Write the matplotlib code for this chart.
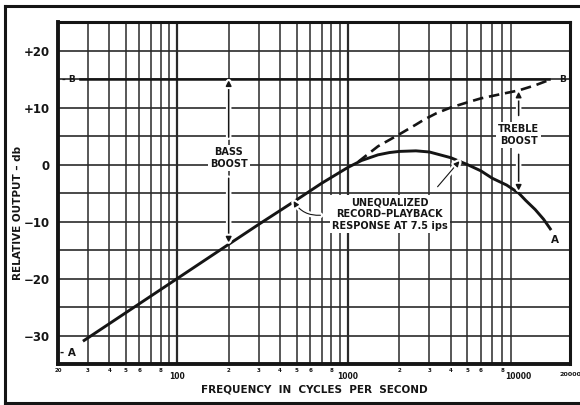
import numpy as np
import matplotlib
matplotlib.use('Agg')
import matplotlib.pyplot as plt
from matplotlib import patheffects as pe
from matplotlib.lines import Line2D

plt.rcParams['font.family'] = 'DejaVu Sans'
plt.rcParams['font.weight'] = 'bold'
plt.rcParams['axes.labelweight'] = 'bold'

# Unequalized record-playback response (curve A), dB vs Hz
resp_freq = [28, 100, 200, 300, 500, 700, 1000, 1200, 1500, 1750, 2000, 2500,
             3000, 4000, 5000, 6000, 7000, 8500, 10000, 11000, 12500, 14000, 15500]
resp_db = [-31.0, -20.0, -14.0, -10.5, -6.2, -3.3, -0.5, 0.7, 1.7, 2.1, 2.3, 2.4,
           2.2, 1.2, 0.0, -1.1, -2.4, -3.6, -5.0, -6.3, -7.9, -9.6, -11.5]

# Response with treble boost (dashed, running up to B)
boost_freq = [1150, 1500, 2000, 2500, 2800, 3300, 4000, 5000, 6000, 8000, 10000, 12500, 15000]
boost_db = [0.5, 3.2, 5.3, 7.0, 7.9, 9.0, 10.0, 10.9, 11.6, 12.4, 13.0, 13.9, 14.8]

# Flat target level (line B)
flat_freq = [27, 15100]
flat_db = [15, 15]

# Axis ticks
y_ticks = [20, 10, 0, -10, -20, -30]
y_labels = ['+20', '+10', '0', '\u221210', '\u221220', '\u221230']
major_x = [100, 1000, 10000, 20000]
major_x_labels = ['100', '1000', '10000', '20000']
minor_x = [20, 30, 40, 50, 60, 80, 200, 300, 400, 500, 600, 800,
           2000, 3000, 4000, 5000, 6000, 8000]
minor_x_labels = ['20', '3', '4', '5', '6', '8', '2', '3', '4', '5', '6', '8',
                  '2', '3', '4', '5', '6', '8']

ink = '#151515'

fig = plt.figure(figsize=(5.8, 4.05), dpi=100)
ax = fig.add_axes([0.1, 0.1012, 0.8828, 0.8444])
ax.set_xscale('log')
ax.set_xlim(20, 20000)
ax.set_ylim(-35, 25)

# log paper grid
for dec in [10, 100, 1000]:
    for m in range(1, 10):
        f = dec * m
        if f <= 20 or f >= 20000:
            continue
        lw = 1.6 if m == 1 else 1.1
        ax.axvline(f, color='#2a2a2a', lw=lw, zorder=1)
for yv in range(-30, 25, 5):
    ax.axhline(yv, color='#2a2a2a', lw=1.2, zorder=1)

for s in ax.spines.values():
    s.set_linewidth(2.2)
    s.set_color(ink)
ax.spines['left'].set_linewidth(2.8)
ax.spines['bottom'].set_linewidth(2.8)

ax.set_yticks(y_ticks, y_labels)
ax.set_xticks(major_x, major_x_labels)
ax.set_xticks(minor_x, minor_x_labels, minor=True)
ax.tick_params(axis='y', length=0, pad=6, labelsize=8.5, colors=ink)
ax.tick_params(axis='x', which='major', length=0, pad=6, labelsize=5.5, colors=ink)
ax.tick_params(axis='x', which='minor', length=0, pad=3, labelsize=4, colors=ink)
# last label sits on the right edge
last = ax.get_xticklabels()[-1]
last.set_fontsize(4.6)

# curves
ax.plot(flat_freq, flat_db, color=ink, lw=1.8, zorder=4)
ax.plot(boost_freq, boost_db, color=ink, lw=1.9, ls=(0, (4, 2.2)), zorder=4)
ax.plot(resp_freq, resp_db, color=ink, lw=2.1, zorder=5,
        solid_capstyle='butt')

# end labels
ax.text(21, 15, '- B', fontsize=6.5, va='center', ha='left', color=ink)
ax.text(17300, 15, 'B', fontsize=6.5, va='center', ha='left', color=ink)
ax.text(20.6, -33.0, '- A', fontsize=7.5, va='center', ha='left', color=ink)
ax.text(16400, -13.3, 'A', fontsize=7.5, va='center', ha='center', color=ink)

white_edge = [pe.withStroke(linewidth=4, foreground='white')]
box = dict(facecolor='white', edgecolor='none', pad=1.5)


def arrow(tip, tail, rad=0.0, lw=1.1):
    ax.annotate('', xy=tip, xytext=tail, zorder=6,
                arrowprops=dict(arrowstyle='-|>', color=ink, lw=lw,
                                mutation_scale=8, shrinkA=0, shrinkB=0,
                                connectionstyle='arc3,rad=%s' % rad,
                                path_effects=white_edge))


# bass boost
ax.text(200, 1.2, 'BASS\nBOOST', fontsize=7, ha='center', va='center',
        linespacing=1.25, color=ink, bbox=box, zorder=6)
arrow((200, 14.8), (200, 4.8))
arrow((200, -13.7), (200, -2.4))

# treble boost
ax.text(10000, 5.2, 'TREBLE\nBOOST', fontsize=7, ha='center', va='center',
        linespacing=1.25, color=ink, bbox=box, zorder=6)
arrow((10000, 12.8), (10000, 8.6))
arrow((10000, -4.6), (10000, 1.8))

# curve description
ax.text(1760, -8.7, 'UNEQUALIZED\nRECORD\u2013PLAYBACK\nRESPONSE AT 7.5 ips',
        fontsize=7, ha='center', va='center', linespacing=1.25, color=ink,
        bbox=box, zorder=6)
arrow((480, -6.4), (690, -8.9), rad=-0.3, lw=0.8)
arrow((4500, 0.6), (3350, -3.9), rad=0.0, lw=0.8)

ax.set_xlabel('FREQUENCY  IN  CYCLES  PER  SECOND', fontsize=7.5,
              color=ink, labelpad=2, fontweight='bold')
fig.text(0.031, 0.475, 'RELATIVE OUTPUT \u2013 db', rotation=90, fontsize=7.5,
         ha='center', va='center', color=ink, fontweight='bold')

# page frame
fig.add_artist(Line2D([0.009, 0.009], [0.005, 0.985], color=ink, lw=2.2))
fig.add_artist(Line2D([0.009, 1.0], [0.985, 0.985], color=ink, lw=2.2))
fig.add_artist(Line2D([0.009, 1.0], [0.005, 0.005], color=ink, lw=2.2))

fig.savefig('out.png', dpi=100, facecolor='white')
